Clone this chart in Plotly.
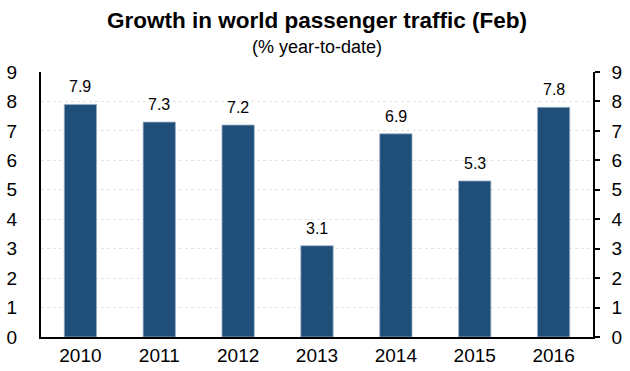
import plotly.graph_objects as go

years = ["2010", "2011", "2012", "2013", "2014", "2015", "2016"]
growth = [7.9, 7.3, 7.2, 3.1, 6.9, 5.3, 7.8]
y_ticks = [0, 1, 2, 3, 4, 5, 6, 7, 8, 9]

bar_color = "#1f4e79"
font_family = "Liberation Sans, Arial, sans-serif"
xpos = list(range(len(years)))

fig = go.Figure()
fig.add_trace(go.Bar(
    x=xpos, y=growth,
    marker=dict(color=bar_color, line=dict(color="#9fb3c8", width=0.8)),
    width=0.41,
    hoverinfo="skip",
))
# invisible trace to drive the right axis
fig.add_trace(go.Scatter(x=xpos, y=growth, yaxis="y2", mode="markers",
                         marker=dict(opacity=0), hoverinfo="skip", showlegend=False))

for x, v in zip(xpos, growth):
    fig.add_annotation(x=x, y=v, text=f"{v:.1f}", showarrow=False,
                       yanchor="bottom", yshift=7,
                       font=dict(family=font_family, size=16, color="#000"))

fig.add_annotation(xref="paper", yref="paper", x=0.5, y=1, yshift=52,
                   yanchor="middle", showarrow=False,
                   text="<b>Growth in world passenger traffic (Feb)</b>",
                   font=dict(family=font_family, size=22.5, color="#000"))
fig.add_annotation(xref="paper", yref="paper", x=0.5, y=1, yshift=25,
                   yanchor="middle", showarrow=False,
                   text="(% year-to-date)",
                   font=dict(family=font_family, size=18, color="#000"))

axis_font = dict(family=font_family, size=19, color="#000")
fig.update_layout(
    width=630, height=371,
    margin=dict(l=41, r=37, t=72, b=34, autoexpand=False),
    paper_bgcolor="white", plot_bgcolor="white",
    showlegend=False,
    font=axis_font,
    xaxis=dict(
        range=[-0.5, len(years) - 0.5],
        tickvals=xpos, ticktext=years, automargin=False,
        showline=True, linecolor="#000", linewidth=2,
        ticks="", tickfont=axis_font, showgrid=False, zeroline=False,
        ticklabelstandoff=0,
    ),
    yaxis=dict(
        range=[0, 9], tickvals=y_ticks, showline=True, linecolor="#000", linewidth=2,
        ticks="", tickfont=axis_font, showgrid=True, gridcolor="#e3e3e3",
        griddash="dot", gridwidth=1, zeroline=False, ticklabelstandoff=18,
        automargin=False,
    ),
    yaxis2=dict(
        range=[0, 9], tickvals=y_ticks, overlaying="y", side="right",
        showline=True, linecolor="#000", linewidth=1.5,
        ticks="outside", ticklen=5, tickcolor="#000", tickwidth=1.5,
        tickfont=axis_font, showgrid=False, zeroline=False, ticklabelstandoff=8,
        automargin=False,
    ),
)

fig.write_html("out.html")
